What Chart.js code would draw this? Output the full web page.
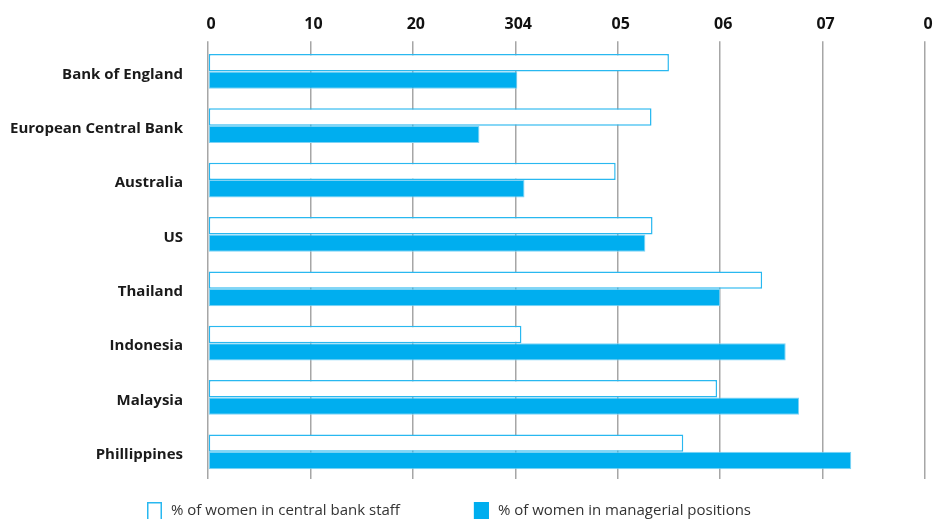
<!DOCTYPE html>
<html>
<head>
<meta charset="utf-8">
<script src="https://cdn.jsdelivr.net/npm/chart.js@4/dist/chart.umd.min.js"></script>
<style>
  html, body { margin: 0; padding: 0; background: #fff; overflow: hidden; }
  #wrap { width: 934px; height: 519px; position: relative; }
</style>
</head>
<body>
<div id="wrap"><canvas id="graphCanvas"></canvas></div>
<script>
var banks = ['Bank of England', 'European Central Bank', 'Australia', 'US', 'Thailand', 'Indonesia', 'Malaysia', 'Phillippines'];
var staffShare = [45, 43.3, 39.8, 43.4, 54.1, 30.6, 49.7, 46.4];
var managerShare = [30.2, 26.5, 30.9, 42.7, 50, 56.4, 57.7, 62.8];
var tickLabels = ['0', '10', '20', '304', '05', '06', '07', '0'];

var blue = '#00aeef';

var chartdata = {
    labels: banks,
    datasets: [
        {
            label: '% of women in central bank staff',
            backgroundColor: '#ffffff',
            borderColor: '#29b8f0',
            borderWidth: 1.5,
            data: staffShare
        },
        {
            label: '% of women in managerial positions',
            backgroundColor: blue,
            borderColor: '#7fd3f5',
            borderWidth: 1,
            data: managerShare
        }
    ]
};

// legend drawn under the plot, spaced like the original
var bottomLegend = {
    id: 'bottomLegend',
    afterDraw: function (chart) {
        var ctx = chart.ctx;
        var x = 147, y = 502, gap = 74;
        ctx.save();
        ctx.font = '15px "Open Sans"';
        ctx.textBaseline = 'middle';
        chart.data.datasets.forEach(function (ds) {
            ctx.fillStyle = ds.backgroundColor;
            ctx.fillRect(x, y, 15, 19);
            ctx.strokeStyle = ds.borderColor === '#7fd3f5' ? blue : ds.borderColor;
            ctx.lineWidth = 1.5;
            ctx.strokeRect(x + 0.75, y + 0.75, 13.5, 19);
            ctx.fillStyle = '#333';
            ctx.fillText(ds.label, x + 24, y + 9);
            x = x + 24 + ctx.measureText(ds.label).width + gap;
        });
        ctx.restore();
    }
};

new Chart(document.getElementById('graphCanvas'), {
    type: 'bar',
    data: chartdata,
    plugins: [bottomLegend],
    options: {
        indexAxis: 'y',
        responsive: true,
        maintainAspectRatio: false,
        animation: false,
        layout: { padding: { left: 0, right: 9, top: 8, bottom: 40 } },
        datasets: { bar: { barPercentage: 1, categoryPercentage: 0.64, borderSkipped: false } },
        scales: {
            x: {
                position: 'top',
                min: 0,
                max: 70,
                afterFit: function (axis) { axis.paddingRight = 0; },
                grid: { color: '#a6a6a6', lineWidth: 1.5, tickLength: 3, drawTicks: true },
                border: { display: false },
                ticks: {
                    stepSize: 10,
                    padding: 7,
                    labelOffset: 3,
                    color: '#111',
                    font: { family: 'Open Sans', size: 16, weight: 'bold' },
                    callback: function (v, i) { return tickLabels[i]; }
                }
            },
            y: {
                afterFit: function (axis) { axis.width = 208; },
                grid: { display: false, drawTicks: false },
                border: { display: false },
                ticks: {
                    padding: 25,
                    labelOffset: 3,
                    color: '#1a1a1a',
                    font: { family: 'Open Sans', size: 15, weight: 'bold' }
                }
            }
        },
        plugins: {
            tooltip: { enabled: false },
            legend: { display: false }
        }
    }
});
</script>
</body>
</html>
